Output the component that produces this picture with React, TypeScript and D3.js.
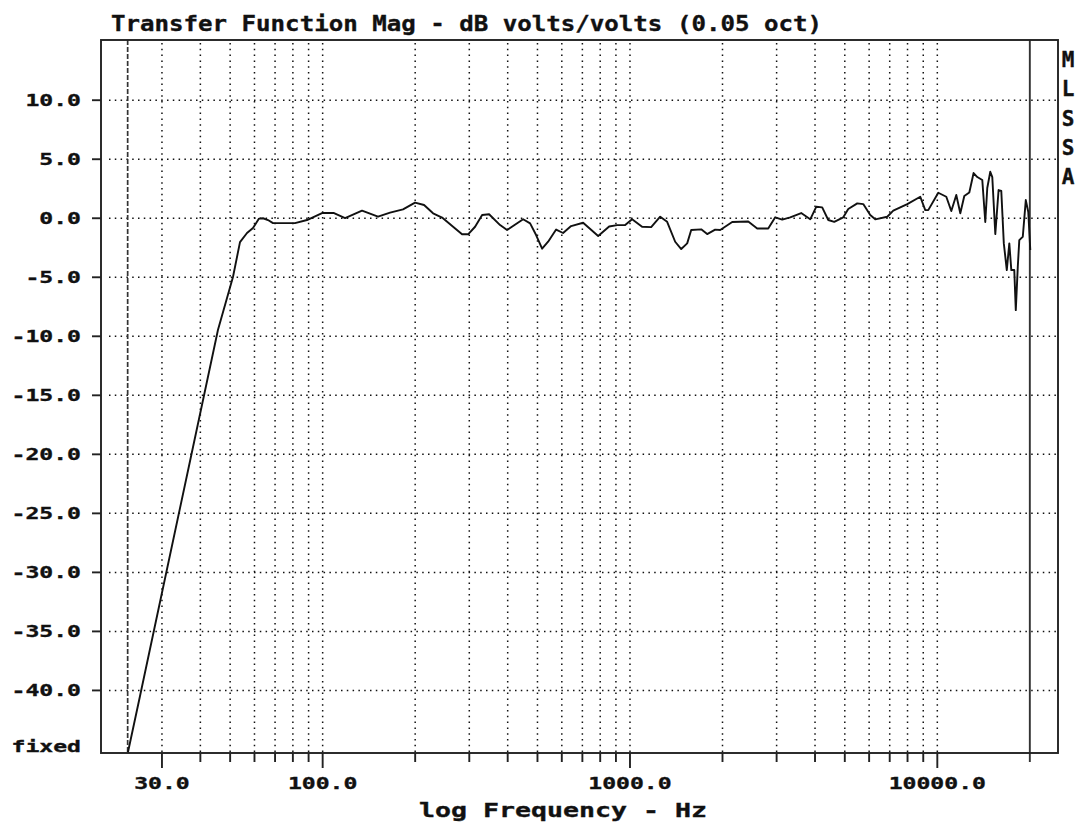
import * as d3 from "d3";

// MLSSA transfer function magnitude (0.05 oct smoothing)
const freqHz = [
  23.25, 25.44, 29.55, 37.01, 45.63, 51.07, 53.83, 56.73, 59.33, 62.07,
  63.96, 66.4, 68.94, 81.28, 88.94, 99.52, 108.9, 118.3, 134.3, 151.4,
  165.7, 182.6, 199.8, 213.8, 228.7, 244.7, 265.7, 284.2, 297.3, 313.3,
  330.3, 348.0, 377.9, 398.2, 449.1, 473.2, 494.9, 517.7, 541.5, 575.0,
  605.8, 643.3, 703.9, 787.9, 855.4, 908.2, 964.6, 1016, 1095, 1172,
  1254, 1321, 1403, 1468, 1535, 1582, 1705, 1783, 1893, 1966,
  2151, 2425, 2594, 2817, 2969, 3128, 3322, 3607, 3859, 4036,
  4221, 4418, 4620, 4943, 5131, 5490, 5741, 6050, 6281, 6873,
  7190, 7984, 8801, 9136, 9344, 10072, 10696, 11105, 11527, 11880,
  12241, 12708, 13124, 13492, 14007, 14324, 14540, 14871, 15096, 15441,
  15826, 16150, 16458, 16830, 17150, 17410, 17800, 18003, 18275, 18482,
  18973, 19405, 19770, 20069,
];
const magDb = [
  -45.24, -40.49, -32.53, -20.58, -9.47, -4.98, -2.02, -1.25, -0.83, -0.03,
  0.0, -0.15, -0.41, -0.41, -0.15, 0.44, 0.44, 0.02, 0.64, 0.13,
  0.47, 0.75, 1.33, 1.12, 0.42, 0.06, -0.72, -1.36, -1.36, -0.72,
  0.27, 0.34, -0.58, -1.0, -0.08, -0.43, -1.42, -2.58, -1.99, -0.96,
  -1.25, -0.66, -0.38, -1.51, -0.7, -0.58, -0.58, -0.08, -0.72, -0.75,
  0.13, -0.3, -1.99, -2.61, -2.13, -1.0, -0.94, -1.34, -0.96, -1.0,
  -0.32, -0.28, -0.87, -0.87, 0.08, -0.11, 0.08, 0.44, -0.09, 0.97,
  0.92, -0.15, -0.3, 0.08, 0.78, 1.26, 1.2, 0.27, -0.09, 0.13,
  0.64, 1.2, 1.82, 0.69, 0.69, 2.16, 1.82, 0.61, 1.97, 0.42,
  1.88, 2.18, 3.83, 3.49, 3.24, -0.32, 2.56, 3.94, 3.49, -1.34,
  2.39, 2.31, -2.13, -4.39, -2.13, -4.39, -4.39, -7.78, -4.11, -1.85,
  -1.57, 1.54, 0.53, -2.69,
];

const yTicks = [10, 5, 0, -5, -10, -15, -20, -25, -30, -35, -40];
const xMajorTicks = [30, 100, 1000, 10000];
const xMinorTicks = [
  40, 50, 60, 70, 80, 90, 200, 300, 400, 500, 600, 700, 800, 900,
  2000, 3000, 4000, 5000, 6000, 7000, 8000, 9000,
];
const lowerMarkerHz = 23.2;
const upperMarkerHz = 20000;

const TITLE = "Transfer Function Mag - dB volts/volts (0.05 oct)";
const X_LABEL = "log Frequency - Hz";
const SIDE_LABEL = ["M", "L", "S", "S", "A"];

const W = 1086;
const H = 825;
const left = 101;
const right = 1058;
const top = 40;
const bottom = 753;
const FONT = "'DejaVu Sans Mono', monospace";
const CHAR_W = 13.9;

// shared look for the chunky DOS-style text
const txt = {
  fontFamily: FONT,
  fontWeight: "bold" as const,
  fill: "#111",
  stroke: "#111",
  strokeWidth: 0.35,
  lengthAdjust: "spacingAndGlyphs",
};

export default function App() {
  const x = d3.scaleLog().domain([19, 24700]).range([left, right]);
  const y = d3.scaleLinear().domain([-45.3, 15.1]).range([bottom, top]);

  const points = freqHz.map((f, i) => ({ f, db: magDb[i] }));
  const line = d3
    .line<{ f: number; db: number }>()
    .x((d) => x(d.f))
    .y((d) => y(d.db));

  const fmt = (v: number) => v.toFixed(1);

  return (
    <svg
      width={W}
      height={H}
      style={{ position: "absolute", left: 0, top: 0, background: "#fff" }}
    >
      {/* title */}
      <text {...txt} x={111} y={31} fontSize={21} textLength={711}>
        {TITLE}
      </text>

      {/* horizontal grid */}
      {yTicks.map((t) => (
        <line
          key={"hg" + t}
          x1={left + 8}
          x2={right - 2}
          y1={y(t)}
          y2={y(t)}
          stroke="#111"
          strokeWidth={1.5}
          strokeDasharray="1.5 4.3"
        />
      ))}

      {/* vertical grid */}
      {[...xMinorTicks, ...xMajorTicks].map((t) => (
        <line
          key={"vg" + t}
          x1={x(t)}
          x2={x(t)}
          y1={top + 3}
          y2={bottom}
          stroke="#111"
          strokeWidth={1.5}
          strokeDasharray="1.5 4.3"
        />
      ))}

      {/* lower marker (dashed) */}
      <line
        x1={x(lowerMarkerHz)}
        x2={x(lowerMarkerHz)}
        y1={top}
        y2={bottom}
        stroke="#333"
        strokeWidth={1.7}
        strokeDasharray="5 2"
      />
      {/* upper marker (solid) */}
      <line
        x1={x(upperMarkerHz)}
        x2={x(upperMarkerHz)}
        y1={top}
        y2={bottom + 9}
        stroke="#333"
        strokeWidth={1.9}
      />

      {/* frame */}
      <rect
        x={left}
        y={top}
        width={right - left}
        height={bottom - top}
        fill="none"
        stroke="#222"
        strokeWidth={1.9}
      />

      {/* y ticks + labels */}
      {yTicks.map((t) => (
        <g key={"yt" + t}>
          <line x1={left - 9} x2={left} y1={y(t)} y2={y(t)} stroke="#222" strokeWidth={1.9} />
          <text
            {...txt}
            x={81}
            y={y(t) + 6}
            textAnchor="end"
            fontSize={16.5}
            textLength={fmt(t).length * CHAR_W}
          >
            {fmt(t)}
          </text>
        </g>
      ))}
      <text {...txt} x={81} y={752} textAnchor="end" fontSize={16.5} textLength={5 * CHAR_W}>
        fixed
      </text>

      {/* x ticks */}
      {xMinorTicks.map((t) => (
        <line key={"xm" + t} x1={x(t)} x2={x(t)} y1={bottom} y2={bottom + 9} stroke="#222" strokeWidth={1.9} />
      ))}
      {xMajorTicks.map((t) => (
        <g key={"xM" + t}>
          <line x1={x(t)} x2={x(t)} y1={bottom} y2={bottom + 15} stroke="#222" strokeWidth={1.9} />
          <text
            {...txt}
            x={x(t)}
            y={789}
            textAnchor="middle"
            fontSize={16.5}
            textLength={fmt(t).length * CHAR_W}
          >
            {fmt(t)}
          </text>
        </g>
      ))}

      {/* x axis label */}
      <text {...txt} x={419} y={817} fontSize={19} textLength={288}>
        {X_LABEL}
      </text>

      {/* side label */}
      {SIDE_LABEL.map((c, i) => (
        <text key={"s" + i} {...txt} x={1068} y={67 + i * 29.3} textAnchor="middle" fontSize={21}>
          {c}
        </text>
      ))}

      {/* response curve */}
      <path d={line(points) || ""} fill="none" stroke="#111" strokeWidth={1.9} strokeLinejoin="round" />
    </svg>
  );
}
